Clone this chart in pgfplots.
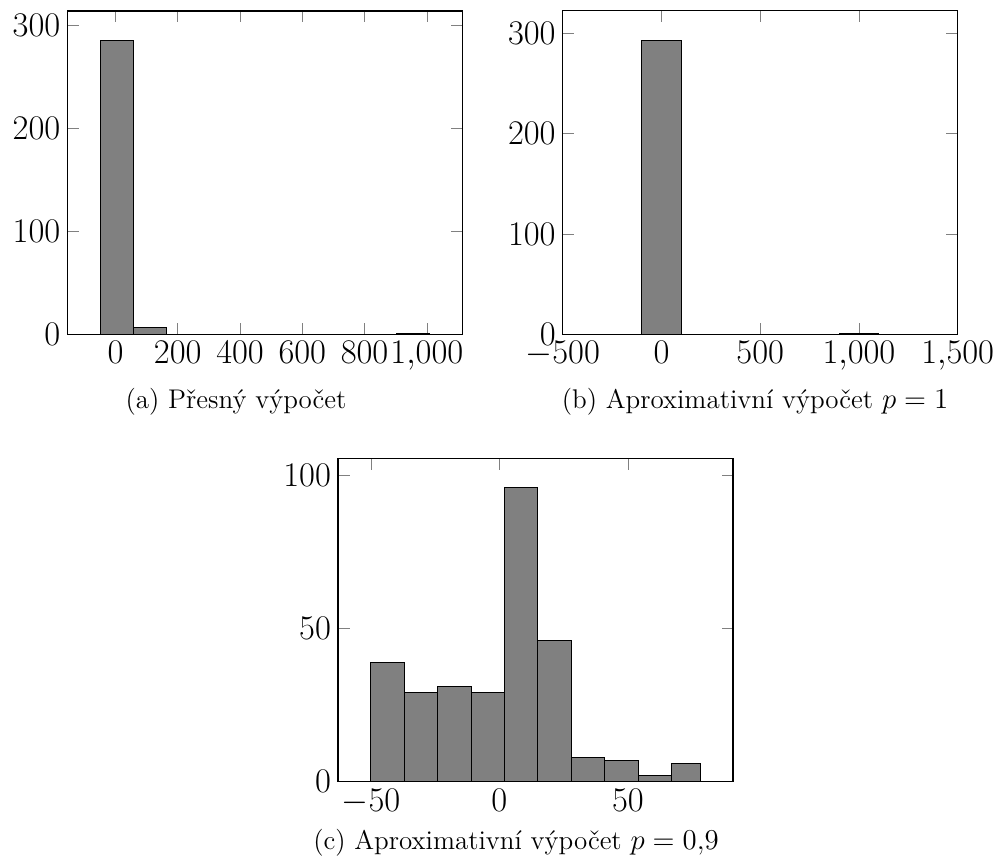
\documentclass[border=0pt]{standalone}
\usepackage{fontspec}
\usepackage{pgfplots}
\pgfplotsset{compat=1.18}

% shared look of the three histograms
\pgfplotsset{
  histaxis/.style={
    scale only axis,
    width=197.5pt, height=161.75pt,
    anchor=south west,
    ymin=0,
    axis line style={line width=0.55pt},
    every tick/.style={line width=0.27pt, gray},
    major tick length=5.75pt,
    tick label style={font=\fontsize{16}{19}\selectfont},
  },
  histbar/.style={ybar interval, fill=gray, draw=black, line width=0.55pt},
}

\begin{document}
\begin{tikzpicture}
\useasboundingbox (0,0) rectangle (497.5pt,432.5pt);

% (a) exact computation
\begin{axis}[histaxis, at={(33.65pt,265.25pt)},
  xmin=-154.7, xmax=1113.7, ymax=313.6,
  xtick={0,200,400,600,800,1000}, ytick={0,100,200,300}]
\addplot[histbar] coordinates {
  (-49.0,285) (56.7,7) (162.4,0) (268.1,0) (373.8,0) (479.5,0)
  (585.2,0) (690.9,0) (796.6,0) (902.3,1) (1008.0,0)
};
\end{axis}

% (b) approximate computation, p = 1
\begin{axis}[histaxis, at={(281.35pt,265.35pt)},
  xmin=-500, xmax=1500, ymax=322.2,
  xtick={-500,0,500,1000,1500}, ytick={0,100,200,300}]
\addplot[histbar] coordinates {
  (-100,293) (100,0) (300,0) (500,0) (700,0) (900,1) (1100,0)
};
\end{axis}

% (c) approximate computation, p = 0.9
\begin{axis}[histaxis, at={(169pt,41.65pt)},
  xmin=-62.81, xmax=90.91, ymax=105.6,
  xtick={-50,0,50}, ytick={0,50,100}]
\addplot[histbar] coordinates {
  (-50,39) (-37,29) (-24,31) (-11,29) (2,96) (15,46)
  (28,8) (41,7) (54,2) (67,6) (78.1,0)
};
\end{axis}

% subfigure captions
\tikzset{caption/.style={anchor=base, font=\fontsize{13.5}{16}\selectfont}}
\node[caption] at (118pt,228pt) {(a) Přesný výpočet};
\node[caption] at (377.5pt,228pt) {(b) Aproximativní výpočet $p = 1$};
\node[caption] at (258pt,7.5pt) {(c) Aproximativní výpočet $p = 0{,}9$};
\end{tikzpicture}
\end{document}
